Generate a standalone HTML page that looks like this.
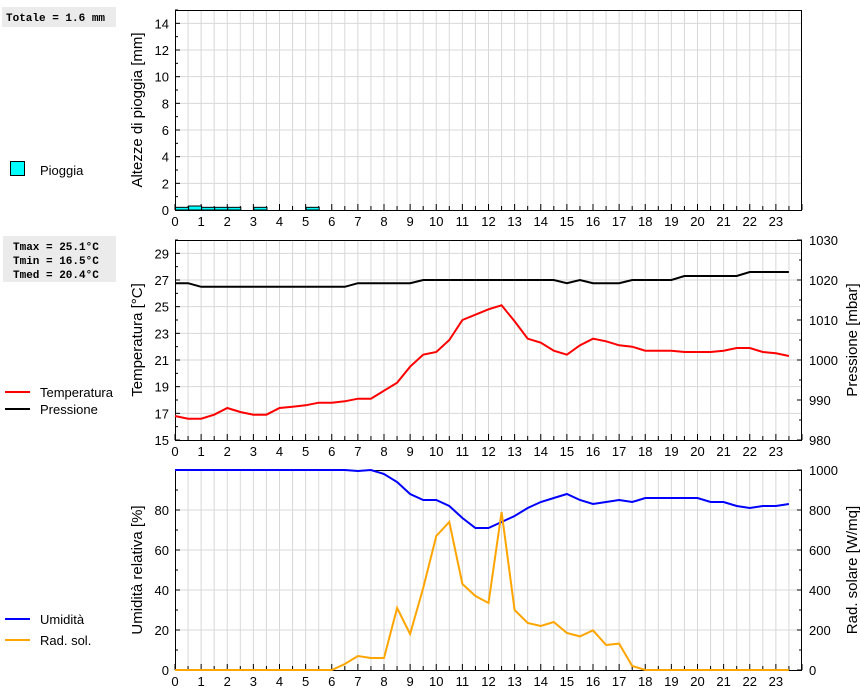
<!DOCTYPE html>
<html><head><meta charset="utf-8">
<style>
body{margin:0;background:#fff;}
svg{display:block;font-family:"Liberation Sans",Arial,sans-serif;}
.box{font-family:"Liberation Mono","DejaVu Sans Mono",monospace;font-weight:bold;font-size:11px;}
</style></head>
<body>
<svg id="c" width="860" height="690" xmlns="http://www.w3.org/2000/svg">
<rect x="2" y="7" width="114" height="20" fill="#ebebeb"/>
<text class="box" x="6" y="21">Totale = 1.6 mm</text>
<rect x="3" y="236" width="113" height="46" fill="#ebebeb"/>
<text class="box" x="13" y="250">Tmax = 25.1°C</text>
<text class="box" x="13" y="264">Tmin = 16.5°C</text>
<text class="box" x="13" y="278">Tmed = 20.4°C</text>
<rect x="10.5" y="161.5" width="14" height="14" fill="#00ffff" stroke="#000"/>
<text x="40" y="175" font-size="13">Pioggia</text>
<line x1="5" y1="392" x2="30" y2="392" stroke="#f00" stroke-width="2"/>
<text x="40" y="397" font-size="13">Temperatura</text>
<line x1="5" y1="409" x2="30" y2="409" stroke="#000" stroke-width="2"/>
<text x="40" y="414" font-size="13">Pressione</text>
<line x1="5" y1="619" x2="30" y2="619" stroke="#00f" stroke-width="2"/>
<text x="40" y="624" font-size="13">Umidità</text>
<line x1="5" y1="640" x2="30" y2="640" stroke="#ffa500" stroke-width="2"/>
<text x="40" y="645" font-size="13">Rad. sol.</text>
</svg>
<script>
const hours = Array.from({length:48},(_, i)=>i/2);
const rainStart = [0, 0.5, 1, 1.5, 2, 3, 5];
const rainValues = [0.2, 0.3, 0.2, 0.2, 0.2, 0.2, 0.2];
const tempValues = [16.8,16.6,16.6,16.9,17.4,17.1,16.9,16.9,17.4,17.5,17.6,17.8,17.8,17.9,18.1,18.1,18.7,19.3,20.5,21.4,21.6,22.5,24.0,24.4,24.8,25.1,23.9,22.6,22.3,21.7,21.4,22.1,22.6,22.4,22.1,22.0,21.7,21.7,21.7,21.6,21.6,21.6,21.7,21.9,21.9,21.6,21.5,21.3];
const pressValues = [1019.2,1019.2,1018.3,1018.3,1018.3,1018.3,1018.3,1018.3,1018.3,1018.3,1018.3,1018.3,1018.3,1018.3,1019.2,1019.2,1019.2,1019.2,1019.2,1020,1020,1020,1020,1020,1020,1020,1020,1020,1020,1020,1019.2,1020,1019.2,1019.2,1019.2,1020,1020,1020,1020,1021,1021,1021,1021,1021,1022,1022,1022,1022];
const humValues = [100,100,100,100,100,100,100,100,100,100,100,100,100,100,99.5,100,98,94,88,85,85,82,76,71,71,74,77,81,84,86,88,85,83,84,85,84,86,86,86,86,86,84,84,82,81,82,82,83];
const radValues = [0,0,0,0,0,0,0,0,0,0,0,0,0,30,70,60,60,310,180,410,670,740,430,370,335,790,300,235,220,240,185,168,198,125,132,20,0,0,0,0,0,0,0,0,0,0,0,0];
const xTicks = Array.from({length:24},(_, i)=>i);

const svg=document.getElementById('c');
const NS='http://www.w3.org/2000/svg';
const L=175,R=802;
const X=h=>L+(R-L)*h/24;
function mk(tag,attrs,parent){const e=document.createElementNS(NS,tag);for(const k in attrs)e.setAttribute(k,attrs[k]);(parent||svg).appendChild(e);return e;}
function panel(name,top,bot,ymin,ymax,major,minor,ytitle,rmin,rmax,rmajor,rminor,rtitle){
  const g=mk('g',{});
  
  
  const Y=v=>bot-(bot-top)*(v-ymin)/(ymax-ymin);
  for(let h=0.5;h<24;h+=0.5){const l=mk('line',{x1:X(h),x2:X(h),y1:top,y2:bot,stroke:'#d8d8d8'},g);
    }
  for(let v=ymin+major;v<ymax;v+=major){const l=mk('line',{x1:L,x2:R,y1:Y(v),y2:Y(v),stroke:'#d8d8d8'},g);
    }
  const fr=mk('rect',{x:L+0.5,y:top+0.5,width:R-L-1,height:bot-top,fill:'none',stroke:'#000'},g);
  
  for(let h=0;h<=24;h+=0.5){mk('line',{x1:X(h),x2:X(h),y1:bot,y2:bot-(h%1?4:6),stroke:'#000'},g);}
  xTicks.forEach(h=>{const t=mk('text',{x:X(h),y:bot+16,'font-size':13,'text-anchor':'middle'},g);t.textContent=h;
    });
  for(let v=ymin;v<=ymax+1e-9;v+=minor){mk('line',{x1:L,x2:L+((v-ymin)%major?3:5),y1:Y(v),y2:Y(v),stroke:'#000'},g);}
  for(let v=ymin;v<ymax;v+=major){const t=mk('text',{x:L-6,y:Y(v)+5,'font-size':13,'text-anchor':'end'},g);t.textContent=v;
    }
  const yt=mk('text',{transform:`translate(142,${(top+bot)/2}) rotate(-90)`,'font-size':15,'text-anchor':'middle'},g);
  yt.textContent=ytitle;
  let RY=null;
  if(rtitle){
    RY=v=>bot-(bot-top)*(v-rmin)/(rmax-rmin);
    for(let v=rmin;v<=rmax+1e-9;v+=rminor){mk('line',{x1:R-((v-rmin)%rmajor?3:5),x2:R,y1:RY(v),y2:RY(v),stroke:'#000'},g);}
    for(let v=rmin;v<=rmax;v+=rmajor){const t=mk('text',{x:R+7,y:RY(v)+5,'font-size':13},g);t.textContent=v;
      }
    const rt=mk('text',{transform:`translate(857,${(top+bot)/2}) rotate(-90)`,'font-size':15,'text-anchor':'middle'},g);
    rt.textContent=rtitle;
  }
  return {g,Y,RY};
}
function line(p,vals,Y,color,name){
  const pts=vals.map((v,i)=>X(hours[i]).toFixed(1)+','+Y(v).toFixed(1)).join(' ');
  const e=mk('polyline',{points:pts,fill:'none',stroke:color,'stroke-width':2},p.g);
  
  
}
const p1=panel('rain',10,210,0,15,2,1,'Altezze di pioggia [mm]');
// fix: rain y-axis labels go 0..14 step 2 — handled by loop from 0 with step 2
rainStart.forEach((s,i)=>{
  const b=mk('rect',{x:X(s)+0.5,y:p1.Y(rainValues[i]),width:X(s+0.5)-X(s),height:p1.Y(0)-p1.Y(rainValues[i]),fill:'#00ffff',stroke:'#000'},p1.g);
  
  
});
const p2=panel('temp-pressure',240,440,15,30,2,1,'Temperatura [°C]',980,1030,10,5,'Pressione [mbar]');
line(p2,pressValues,p2.RY,'#000','pressure-line');
line(p2,tempValues,p2.Y,'#f00','temperature-line');
const p3=panel('humidity-radiation',470,670,0,100,20,10,'Umidità relativa [%]',0,1000,200,100,'Rad. solare [W/mq]');
line(p3,humValues,p3.Y,'#00f','humidity-line');
line(p3,radValues,p3.RY,'#ffa500','radiation-line');
</script>
</body></html>
